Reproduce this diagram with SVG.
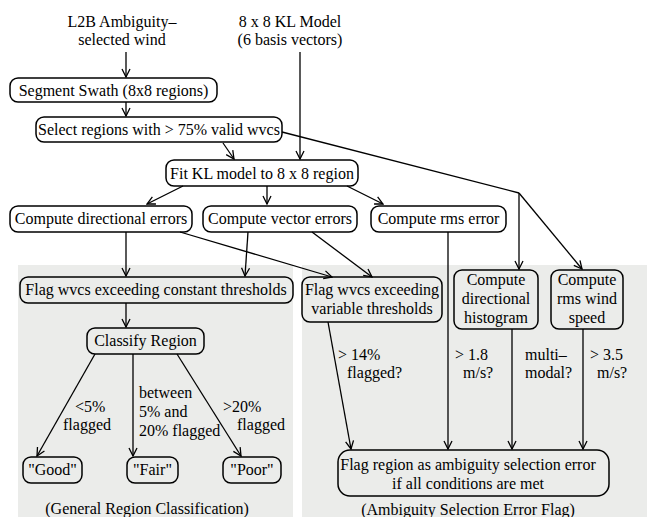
<svg xmlns="http://www.w3.org/2000/svg" width="653" height="517" viewBox="0 0 653 517">
<defs>
<marker id="ah" markerWidth="10" markerHeight="10" refX="9" refY="5" orient="auto" markerUnits="userSpaceOnUse">
<path d="M1,1 L9,5 L1,9" fill="none" stroke="#000" stroke-width="1.3"/>
</marker>
<style>
text{font-family:"Liberation Serif","Times New Roman",serif;font-size:16px;fill:#000}
.c{text-anchor:middle}
.box{fill:none;stroke:#000;stroke-width:1.5}
.panel{fill:#ebecea;stroke:none}
.ln{fill:none;stroke:#000;stroke-width:1.3}
.ar{fill:none;stroke:#000;stroke-width:1.3;marker-end:url(#ah)}
</style>
</defs>
<rect width="653" height="517" fill="#fff"/>
<rect class="panel" x="18" y="265" width="275" height="252"/>
<rect class="panel" x="302" y="265" width="345" height="252"/>

<g id="connectors">
<line class="ar" x1="126" y1="52" x2="126" y2="77"/>
<line class="ar" x1="300" y1="52" x2="300" y2="159"/>
<line class="ar" x1="126" y1="102" x2="126" y2="116"/>
<line class="ar" x1="223" y1="143" x2="234" y2="159"/>
<polyline class="ln" points="282,132 519,193"/>
<line class="ar" x1="519" y1="193" x2="519" y2="269"/>
<line class="ar" x1="519" y1="193" x2="582" y2="269"/>
<line class="ar" x1="183" y1="186" x2="147" y2="204"/>
<line class="ar" x1="267" y1="186" x2="267" y2="204"/>
<line class="ar" x1="347" y1="186" x2="383" y2="204"/>
<line class="ar" x1="126" y1="232" x2="126" y2="276"/>
<line class="ar" x1="180" y1="232" x2="332" y2="277"/>
<line class="ar" x1="248" y1="232" x2="245" y2="276"/>
<line class="ar" x1="312" y1="232" x2="372" y2="277"/>
<line class="ar" x1="448" y1="232" x2="448" y2="449"/>
<line class="ar" x1="126" y1="303" x2="126" y2="327"/>
<line class="ar" x1="95" y1="354" x2="37" y2="456"/>
<line class="ar" x1="133" y1="354" x2="133" y2="456"/>
<line class="ar" x1="177" y1="354" x2="241" y2="456"/>
<line class="ar" x1="328" y1="322" x2="351" y2="449"/>
<line class="ar" x1="512" y1="329" x2="512" y2="449"/>
<line class="ar" x1="583" y1="329" x2="583" y2="449"/>
</g>

<g id="input-l2b">
<text class="c" x="122" y="27">L2B Ambiguity–</text>
<text class="c" x="122" y="45">selected wind</text>
</g>
<g id="input-kl">
<text class="c" x="290" y="27">8 x 8 KL Model</text>
<text class="c" x="290" y="45">(6 basis vectors)</text>
</g>
<g id="segment">
<rect class="box" x="10" y="78" width="207" height="24" rx="8"/>
<text class="c" x="113.5" y="96">Segment Swath (8x8 regions)</text>
</g>
<g id="select">
<rect class="box" x="36" y="117" width="246" height="25" rx="8"/>
<text class="c" x="159" y="135">Select regions with &gt; 75% valid wvcs</text>
</g>
<g id="fitkl">
<rect class="box" x="166" y="160" width="192" height="26" rx="8"/>
<text class="c" x="262" y="179">Fit KL model to 8 x 8 region</text>
</g>
<g id="dirErr">
<rect class="box" x="10" y="206" width="182" height="26" rx="8"/>
<text class="c" x="101" y="224">Compute directional errors</text>
</g>
<g id="vecErr">
<rect class="box" x="203" y="206" width="154" height="26" rx="8"/>
<text class="c" x="280" y="224">Compute vector errors</text>
</g>
<g id="rmsErr">
<rect class="box" x="371" y="206" width="135" height="26" rx="8"/>
<text class="c" x="438.5" y="224">Compute rms error</text>
</g>
<g id="flagConst">
<rect class="box" x="20" y="277" width="273" height="26" rx="8"/>
<text class="c" x="156" y="295">Flag wvcs exceeding constant thresholds</text>
</g>
<g id="flagVar">
<rect class="box" x="302" y="277" width="140" height="45" rx="8"/>
<text class="c" x="372" y="295">Flag wvcs exceeding</text>
<text class="c" x="372" y="314">variable thresholds</text>
</g>
<g id="hist">
<rect class="box" x="454" y="270" width="84" height="59" rx="8"/>
<text class="c" x="496" y="285">Compute</text>
<text class="c" x="496" y="304">directional</text>
<text class="c" x="496" y="323">histogram</text>
</g>
<g id="rmsSpeed">
<rect class="box" x="551" y="270" width="72" height="59" rx="8"/>
<text class="c" x="587" y="285">Compute</text>
<text class="c" x="587" y="304">rms wind</text>
<text class="c" x="587" y="323">speed</text>
</g>
<g id="classify">
<rect class="box" x="87" y="328" width="117" height="26" rx="8"/>
<text class="c" x="145.5" y="346">Classify Region</text>
</g>
<g id="labels-classify">
<text x="75" y="412">&lt;5%</text>
<text x="63" y="430">flagged</text>
<text x="139" y="398">between</text>
<text x="139" y="417">5% and</text>
<text x="139" y="436">20% flagged</text>
<text x="223" y="412">&gt;20%</text>
<text x="237" y="430">flagged</text>
</g>
<g id="good">
<rect class="box" x="23" y="457" width="59" height="26" rx="8"/>
<text class="c" x="52.5" y="475">"Good"</text>
</g>
<g id="fair">
<rect class="box" x="127" y="457" width="51" height="26" rx="8"/>
<text class="c" x="152.5" y="475">"Fair"</text>
</g>
<g id="poor">
<rect class="box" x="223" y="457" width="58" height="26" rx="8"/>
<text class="c" x="252" y="475">"Poor"</text>
</g>
<g id="labels-flag">
<text x="338" y="360">&gt; 14%</text>
<text x="347" y="378">flagged?</text>
<text x="455" y="360">&gt; 1.8</text>
<text x="463" y="378">m/s?</text>
<text x="525" y="360">multi–</text>
<text x="525" y="378">modal?</text>
<text x="590" y="360">&gt; 3.5</text>
<text x="597" y="378">m/s?</text>
</g>
<g id="flagRegion">
<rect class="box" x="338" y="450" width="271" height="46" rx="12"/>
<text class="c" x="468" y="470">Flag region as ambiguity selection error</text>
<text class="c" x="468" y="489">if all conditions are met</text>
</g>
<g id="captions">
<text class="c" x="147" y="514">(General Region Classification)</text>
<text class="c" x="468" y="515">(Ambiguity Selection Error Flag)</text>
</g>
</svg>
